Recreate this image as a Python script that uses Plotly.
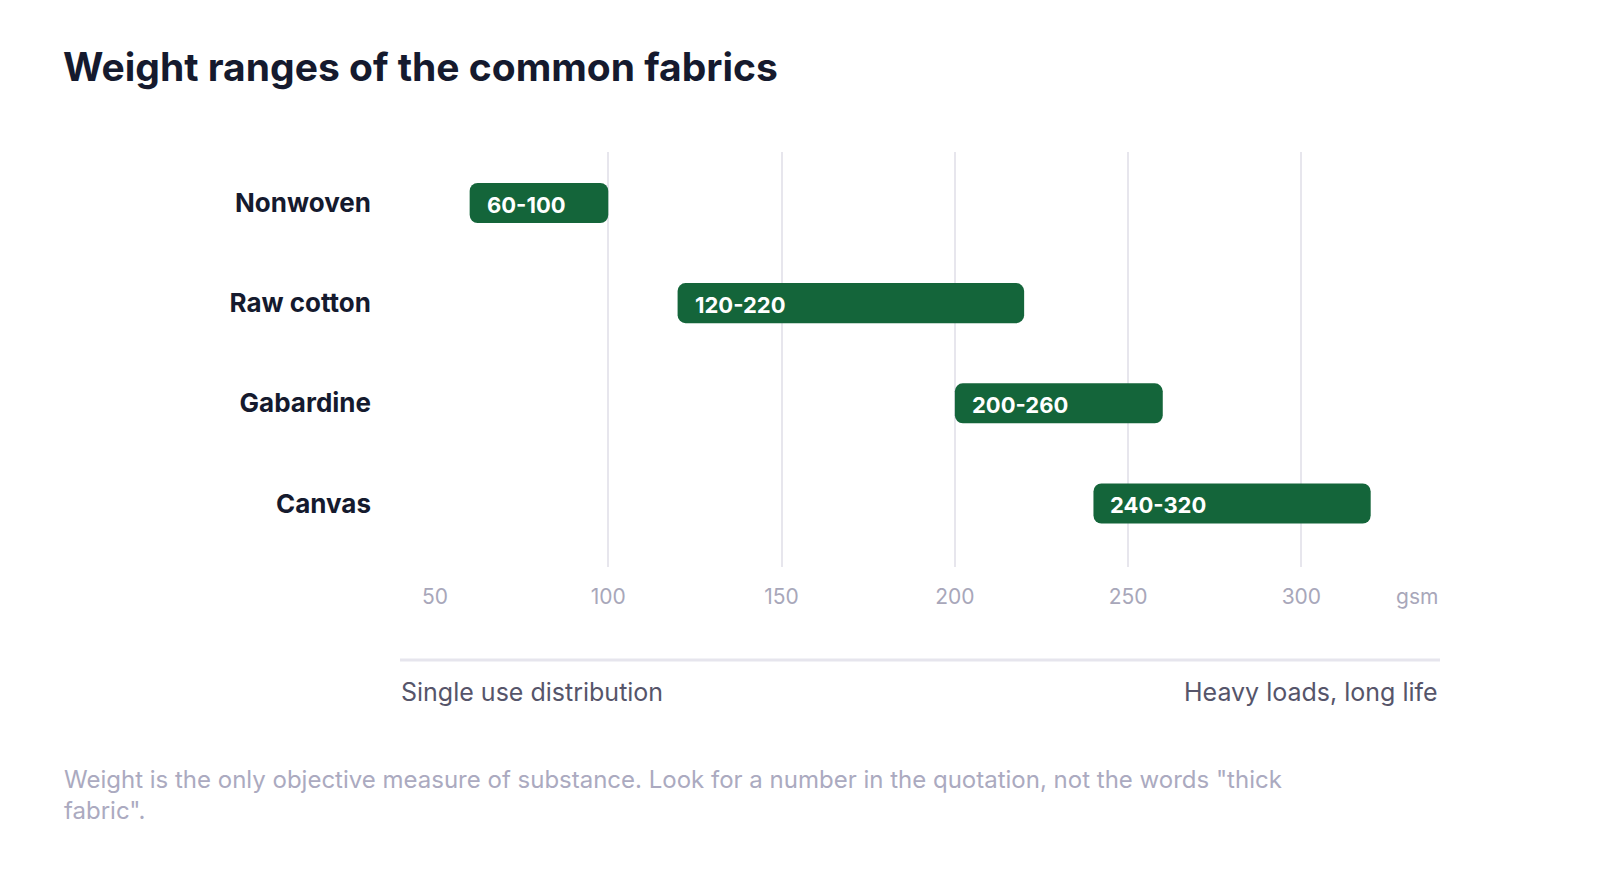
import plotly.graph_objects as go

# fabric weight ranges, gsm
fabrics = ["Nonwoven", "Raw cotton", "Gabardine", "Canvas"]
low = [60, 120, 200, 240]
high = [100, 220, 260, 320]
tick_vals = [50, 100, 150, 200, 250, 300]

GREEN = "#14653A"
FONT = "Inter"

# plot area in page pixels: x 427..1432, y 144..559
PW, PH = 1005, 415
def px(dx):
    return dx / PW
def py(dy):
    return -dy / PH

fig = go.Figure()
fig.add_trace(go.Bar(
    y=fabrics,
    x=[h - l for l, h in zip(low, high)],
    base=low,
    orientation="h",
    width=0.4,
    marker=dict(color=GREEN, cornerradius=8, line_width=0),
    hoverinfo="skip",
))

# labels inside bars, left aligned
for f, l, h in zip(fabrics, low, high):
    fig.add_annotation(x=l, y=f, text=f"<b>{l}-{h}</b>", showarrow=False,
                       xanchor="left", xshift=15, yshift=-2,
                       font=dict(family=FONT, size=22, color="white"))

fig.update_layout(
    width=1600, height=872,
    paper_bgcolor="white", plot_bgcolor="white",
    margin=dict(l=427, r=168, t=144, b=313),
    showlegend=False,
    font=dict(family=FONT),
    title=dict(text="<b>Weight ranges of the common fabrics</b>",
               x=55 / 1600, xanchor="left", y=1 - 59 / 872, yanchor="middle",
               font=dict(size=39, color="#151A2E", family=FONT)),
    xaxis=dict(range=[50, 340], tickvals=tick_vals, showgrid=True,
               gridcolor="#E7E6ED", gridwidth=2, zeroline=False,
               showline=False, ticks="", ticklabelstandoff=15,
               tickfont=dict(size=21, color="#A8A7BA")),
    yaxis=dict(categoryorder="array", categoryarray=fabrics,
               tickvals=fabrics, ticktext=[f"<b>{f}</b>" for f in fabrics],
               range=[3.634, -0.509], showgrid=False, zeroline=False,
               ticks="", ticklabelstandoff=63,
               tickfont=dict(size=26, color="#151A2E")),
)

# unit label
fig.add_annotation(text="gsm", xref="paper", yref="paper", x=1, y=py(29),
                   xanchor="right", yanchor="middle", showarrow=False,
                   font=dict(size=21, color="#A8A7BA", family=FONT))

# scale line below the axis
fig.add_shape(type="line", xref="paper", yref="paper",
              x0=px(-35), x1=1, y0=py(93), y1=py(93),
              line=dict(color="#E6E5ED", width=3))
fig.add_annotation(text="Single use distribution", xref="paper", yref="paper",
                   x=px(-36), y=py(125), xanchor="left", yanchor="middle",
                   showarrow=False, font=dict(size=25, color="#56556A", family=FONT))
fig.add_annotation(text="Heavy loads, long life", xref="paper", yref="paper",
                   x=1, y=py(125), xanchor="right", yanchor="middle",
                   showarrow=False, font=dict(size=25, color="#56556A", family=FONT))

# footnote
fig.add_annotation(
    text='Weight is the only objective measure of substance. Look for a number in the quotation, not the words "thick<br>fabric".',
    xref="paper", yref="paper", x=px(-373), y=py(196),
    xanchor="left", yanchor="top", align="left", showarrow=False,
    font=dict(size=24, color="#ABAAC0", family=FONT))

fig.write_html("out.html")
